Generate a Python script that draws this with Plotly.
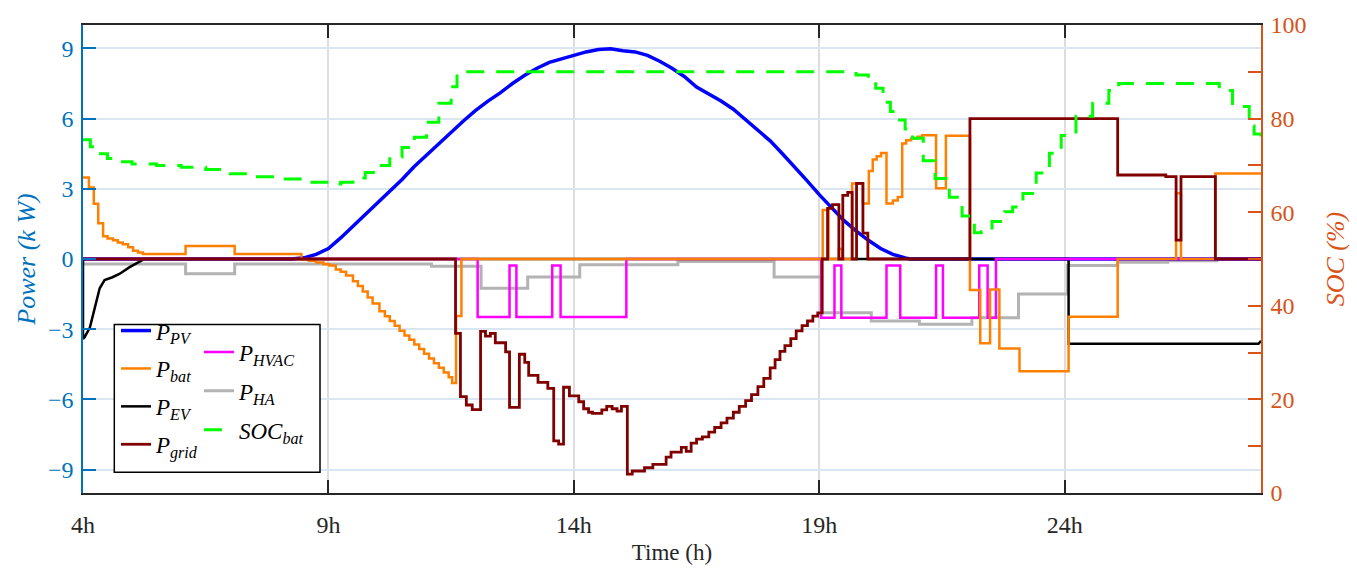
import plotly.graph_objects as go

# ---------------- data (time in hours, power in kW, SOC in %) ----------------
pv_t = [4.0, 8.25, 8.5, 8.75, 9.0, 9.25, 9.5, 9.75, 10.0, 10.25, 10.5, 10.75, 11.0,
        11.25, 11.5, 11.75, 12.0, 12.25, 12.5, 12.75, 13.0, 13.25, 13.5, 13.75, 14.0,
        14.25, 14.5, 14.75, 15.0, 15.25, 15.5, 15.75, 16.0, 16.25, 16.5, 16.75, 17.0,
        17.25, 17.5, 17.75, 18.0, 18.25, 18.5, 18.75, 19.0, 19.25, 19.5, 19.75, 20.0,
        20.25, 20.5, 20.75, 20.85, 28.0]
pv_kw = [0, 0, 0.05, 0.2, 0.45, 0.9, 1.4, 1.9, 2.35, 2.9, 3.4, 3.95, 4.45,
         4.95, 5.45, 5.9, 6.35, 6.75, 7.1, 7.5, 7.85, 8.15, 8.4, 8.55, 8.7,
         8.85, 8.95, 8.98, 8.9, 8.85, 8.7, 8.45, 8.15, 7.8, 7.35, 7.05, 6.75,
         6.4, 5.95, 5.5, 5.05, 4.5, 3.95, 3.35, 2.75, 2.2, 1.65, 1.2, 0.8,
         0.45, 0.2, 0.05, 0, 0]

bat_t = [4.0, 4.12, 4.22, 4.31, 4.41, 4.5, 4.61, 4.71, 4.81, 4.92, 5.02, 5.12, 5.22,
         6.09, 7.09, 8.45, 8.6, 8.75, 8.9, 9.02, 9.15, 9.25, 9.36, 9.5, 9.6, 9.7, 9.8,
         9.9, 10.04, 10.15, 10.25, 10.35, 10.45, 10.55, 10.65, 10.75, 10.85, 10.95,
         11.05, 11.15, 11.25, 11.35, 11.45, 11.52, 11.6, 11.71, 19.07, 19.19, 19.4,
         19.47, 19.67, 19.89, 20.01, 20.09, 20.17, 20.26, 20.37, 20.5, 20.6, 20.69,
         20.77, 20.87, 21.0, 21.1, 21.38, 21.58, 22.07, 22.28, 22.48, 22.67, 23.08,
         24.08, 25.08, 26.27, 26.37, 27.07, 28.0]
bat_kw = [3.48, 3.06, 2.36, 1.53, 0.97, 0.88, 0.8, 0.7, 0.63, 0.5, 0.35, 0.28, 0.21,
          0.56, 0.21, -0.02, -0.08, -0.15, -0.22, -0.28, -0.45, -0.55, -0.7, -0.95, -1.15, -1.39, -1.65,
          -1.9, -2.23, -2.45, -2.65, -2.85, -3.07, -3.27, -3.45, -3.65, -3.85, -4.05,
          -4.25, -4.45, -4.65, -4.85, -5.05, -5.3, -2.44, 0, 2.09, 0, 0.43,
          0, 3.23, 2.37, 3.76, 4.25, 4.39, 4.53, 2.37, 2.5, 2.65, 4.94,
          5.08, 5.15, 5.22, 5.29, 3.02, 5.27, -1.32, -3.6, -1.3, -3.83, -4.8,
          -2.47, 0, 2.81, 0, 3.65, 3.65]

ev_t = [4.0, 4.0, 4.03, 4.14, 4.24, 4.34, 4.44, 4.6, 4.75, 4.95, 5.19, 5.25, 24.08, 24.08, 27.95, 28.0]
ev_kw = [0, -3.41, -3.35, -2.93, -2.09, -1.25, -0.9, -0.78, -0.63, -0.35, -0.07, 0, 0, -3.62, -3.62, -3.5]

grid_t = [4.0, 11.59, 11.69, 11.81, 11.93, 12.1, 12.2, 12.3, 12.4, 12.61, 12.69, 12.89,
          13.0, 13.08, 13.27, 13.47, 13.59, 13.69, 13.79, 13.91, 14.1, 14.2, 14.3, 14.38,
          14.48, 14.57, 14.67, 14.78, 14.88, 14.97, 15.09, 15.19, 15.44, 15.61, 15.88,
          15.98, 16.19, 16.29, 16.39, 16.5, 16.62, 16.75, 16.87, 17.0, 17.12, 17.25,
          17.37, 17.5, 17.62, 17.75, 17.87, 18.0, 18.1, 18.2, 18.3, 18.42, 18.53, 18.65,
          18.76, 18.87, 18.97, 19.06, 19.17, 19.27, 19.4, 19.48, 19.58, 19.67, 19.76,
          19.89, 19.99, 22.07, 25.08, 26.06, 26.27, 26.37, 27.07, 28.0]
grid_kw = [0, -3.18, -5.88, -6.24, -6.44, -3.09, -3.3, -3.18, -3.58, -3.97, -6.34, -4.07,
           -4.42, -4.97, -5.27, -5.53, -7.77, -7.91, -5.48, -5.85, -6.1, -6.4, -6.55, -6.6,
           -6.6, -6.45, -6.3, -6.4, -6.5, -6.3, -9.19, -9.06, -8.92, -8.78, -8.47,
           -8.25, -8.05, -8.22, -7.87, -7.7, -7.6, -7.4, -7.2, -7.0, -6.8, -6.55,
           -6.3, -6.05, -5.8, -5.45, -5.1, -4.65, -4.3, -3.95, -3.7, -3.4, -3.07, -2.85,
           -2.65, -2.44, -2.3, 0, 2.16, 2.32, 0, 2.72, 2.85, 0, 3.23,
           1.11, 0, 6.0, 3.59, 3.52, 0.81, 3.52, 0, 0]

hvac_t = [4.0, 12.04, 12.69, 12.83, 13.56, 13.73, 15.07, 19.04, 19.31, 19.45, 20.37,
          20.65, 21.38, 21.52, 22.26, 22.43, 22.6, 28.0]
hvac_kw = [0, -2.48, -0.28, -2.48, -0.28, -2.48, 0, -2.51, -0.28, -2.51, -0.28,
           -2.51, -0.28, -2.51, -0.28, -2.51, 0, 0]

ha_t = [4.0, 6.09, 7.09, 11.1, 12.11, 13.06, 14.12, 16.12, 18.08, 19.04, 20.06, 21.04,
        22.11, 23.06, 24.06, 25.08, 26.1, 27.1, 28.0]
ha_kw = [-0.21, -0.63, -0.21, -0.31, -1.25, -0.77, -0.25, -0.11, -0.77, -2.3, -2.65, -2.79,
         -2.51, -1.5, -0.28, -0.14, -0.07, 0, 0]

soc_t = [4.0, 4.15, 4.3, 4.5, 4.75, 5.0, 5.5, 6.0, 6.5, 7.0, 7.5, 8.0, 8.5, 9.0, 9.25,
         9.5, 9.75, 10.0, 10.25, 10.5, 10.75, 11.0, 11.25, 11.5, 11.62, 19.5, 19.75,
         20.0, 20.15, 20.3, 20.45, 20.6, 20.75, 20.9, 21.12, 21.36, 21.65, 21.91, 22.16,
         22.3, 22.52, 22.77, 22.94, 23.15, 23.42, 23.69, 23.93, 24.23, 24.57, 24.9, 25.1,
         27.1, 27.15, 27.42, 27.76, 27.86, 28.0]
soc_pct = [75.5, 74.0, 72.5, 71.5, 70.8, 70.3, 70.0, 69.6, 69.1, 68.2, 67.6, 67.1, 66.4, 66.0, 66.4,
           67.3, 68.5, 70.0, 71.8, 73.8, 76.0, 79.2, 83.3, 86.8, 90.0, 90.0, 89.3,
           88.2, 86.5, 83.5, 81.5, 79.7, 77.8, 75.8, 71.0, 67.2, 63.2, 59.2, 55.6,
           55.8, 58.0, 60.1, 61.1, 64.0, 68.4, 72.6, 76.4, 80.5, 83.3, 86.0, 87.5,
           87.5, 86.0, 82.6, 78.4, 76.7, 76.0]

x_tickvals = [4, 9, 14, 19, 24]
x_ticktext = ["4h", "9h", "14h", "19h", "24h"]
y_tickvals = [-9, -6, -3, 0, 3, 6, 9]
y2_tickvals = [0, 10, 20, 30, 40, 50, 60, 70, 80, 90, 100]
y2_ticktext = ["0", "", "20", "", "40", "", "60", "", "80", "", "100"]

# ---------------- figure ----------------
SERIF = "Liberation Serif"
BLUE_AX = "#0072BD"
ORANGE_AX = "#D95319"
DARK = "#262626"

fig = go.Figure()

def add(t, v, name, color, width, leg, group, rank, shape="hv", dash="solid", yaxis="y"):
    fig.add_trace(go.Scatter(
        x=t, y=v, name=name, mode="lines",
        line=dict(color=color, width=width, shape=shape, dash=dash),
        legend=leg, legendgroup=group, legendrank=rank, yaxis=yaxis, hoverinfo="skip"))

# drawing order (bottom -> top); legend order set by legendrank
add(ha_t, ha_kw, "<i>P<sub>HA</sub></i>", "#B3B3B3", 3.0, "legend2", "g6", 6)
add(pv_t, pv_kw, "<i>P<sub>PV</sub></i>", "#0000FF", 3.5, "legend", "g1", 1, shape="linear")
add(ev_t, ev_kw, "<i>P<sub>EV</sub></i>", "#000000", 2.5, "legend", "g3", 3, shape="linear")
add(hvac_t, hvac_kw, "<i>P<sub>HVAC</sub></i>", "#FF00FF", 2.5, "legend2", "g5", 5)
add(bat_t, bat_kw, "<i>P<sub>bat</sub></i>", "#FF8000", 2.5, "legend", "g2", 2)
add(grid_t, grid_kw, "<i>P<sub>grid</sub></i>", "#800000", 2.8, "legend", "g4", 4)
add(soc_t, soc_pct, "<i>SOC<sub>bat</sub></i>", "#00FF00", 3.0, "legend2", "g7", 7,
    dash="18px,12px", yaxis="y2")

L, R, T, B = 83, 96, 13, 79
W, H = 1357, 573
pw, ph = W - L - R, H - T - B

def px_x(px):
    return (px - L) / pw

def px_y(py):
    return (H - B - py) / ph

leg_font = dict(family=SERIF, size=23, color="#000000")

fig.update_layout(
    width=W, height=H,
    margin=dict(l=L, r=R, t=T, b=B),
    paper_bgcolor="white", plot_bgcolor="white",
    font=dict(family=SERIF, size=23, color=DARK),
    xaxis=dict(
        range=[4, 28], tickvals=x_tickvals, ticktext=x_ticktext,
        ticks="inside", ticklen=13, tickwidth=1.5, tickcolor=DARK,
        showline=True, linecolor=DARK, linewidth=1.5, mirror="ticks",
        showgrid=True, gridcolor="#dddddd", gridwidth=1.5, zeroline=False,
        tickfont=dict(family=SERIF, size=24, color=DARK),
        ticklabelstandoff=9,
        title=dict(text="Time (h)", font=dict(family=SERIF, size=23, color=DARK), standoff=7),
    ),
    yaxis=dict(
        range=[-10, 10], tickvals=y_tickvals,
        ticks="inside", ticklen=13, tickwidth=1.5, tickcolor=BLUE_AX,
        showline=True, linecolor=BLUE_AX, linewidth=1.5,
        showgrid=True, gridcolor="#dae6f2", gridwidth=1.5, zeroline=False,
        tickfont=dict(family=SERIF, size=24, color=BLUE_AX),
        ticklabelstandoff=3,
        title=dict(text="<i>Power (k W)</i>", font=dict(family=SERIF, size=26, color=BLUE_AX),
                   standoff=5),
    ),
    yaxis2=dict(
        range=[0, 100], tickvals=y2_tickvals, ticktext=y2_ticktext,
        overlaying="y", side="right", anchor="x",
        ticks="inside", ticklen=13, tickwidth=1.5, tickcolor=ORANGE_AX,
        showline=True, linecolor=ORANGE_AX, linewidth=1.5,
        showgrid=False, zeroline=False,
        tickfont=dict(family=SERIF, size=24, color=ORANGE_AX),
        ticklabelstandoff=3,
        title=dict(text="<i>SOC (%)</i>", font=dict(family=SERIF, size=26, color=ORANGE_AX),
                   standoff=20),
    ),
    legend=dict(
        x=px_x(116), y=px_y(305), xanchor="left", yanchor="top",
        bgcolor="rgba(0,0,0,0)", borderwidth=0, font=leg_font,
        traceorder="grouped", tracegroupgap=5, itemwidth=30,
    ),
    legend2=dict(
        x=px_x(199), y=px_y(327), xanchor="left", yanchor="top",
        bgcolor="rgba(0,0,0,0)", borderwidth=0, font=leg_font,
        traceorder="grouped", tracegroupgap=6, itemwidth=30,
    ),
    shapes=[dict(
        type="rect", xref="paper", yref="paper", layer="above",
        x0=px_x(114.3), x1=px_x(320), y0=px_y(472.7), y1=px_y(320.7),
        fillcolor="white", line=dict(color="#000000", width=1.5),
    )],
)

fig.write_html("out.html")
